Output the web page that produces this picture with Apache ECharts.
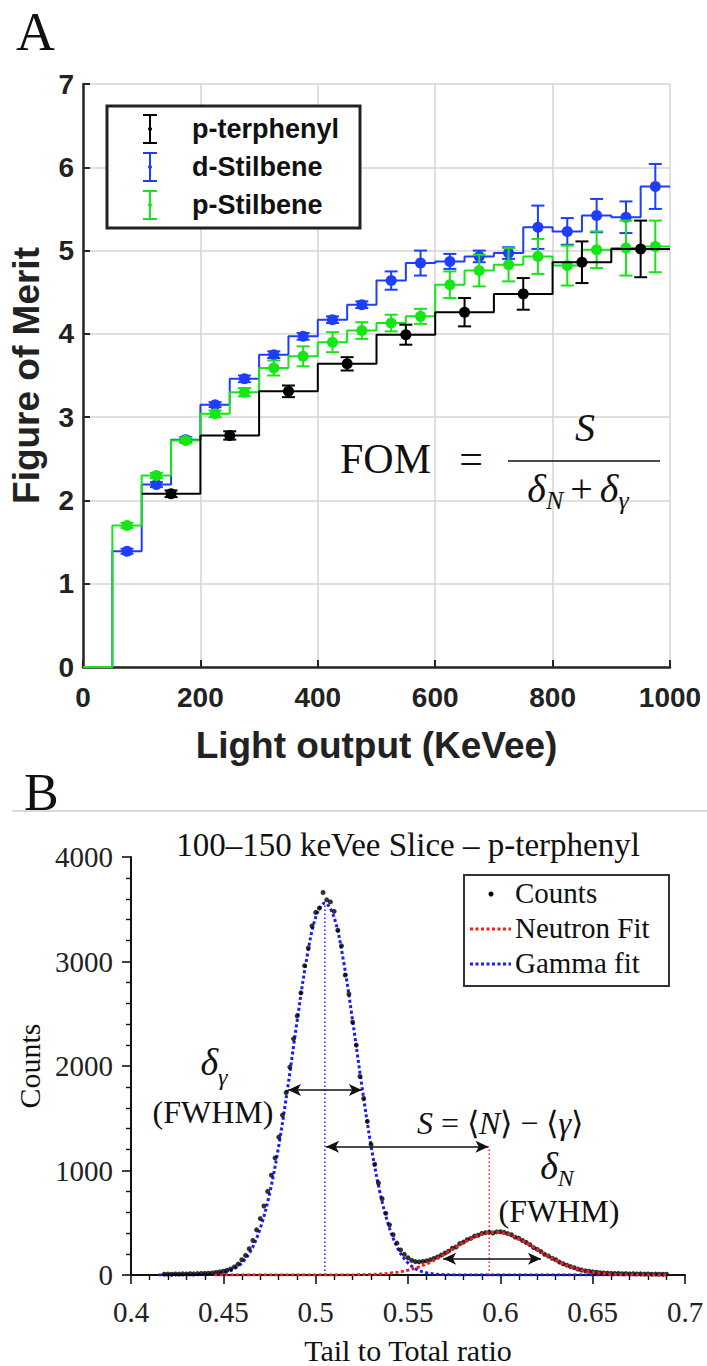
<!DOCTYPE html>
<html><head><meta charset="utf-8">
<script src="https://cdn.jsdelivr.net/npm/echarts@6/dist/echarts.min.js"></script>
<style>html,body{margin:0;padding:0;background:#fff}#c{width:707px;height:1366px}</style>
</head><body><div id="c"></div>
<script>
// ---------- Panel A: Figure of Merit ----------
const stilbeneLo = [50,100,150,200,250,300,350,400,450,500,550,600,650,700,750,800,850,900,950];
const stilbeneHi = [100,150,200,250,300,350,400,450,500,550,600,650,700,750,800,850,900,950,1000];
const stilbeneCenters = [75,125,175,225,275,325,375,425,475,525,575,625,675,725,775,825,875,925,975];
const dStilbene    = [1.39,2.19,2.73,3.15,3.46,3.75,3.97,4.17,4.35,4.64,4.85,4.87,4.93,4.97,5.28,5.23,5.42,5.40,5.77];
const dStilbeneErr = [0.03,0.03,0.03,0.03,0.04,0.04,0.04,0.04,0.04,0.11,0.15,0.09,0.07,0.07,0.26,0.16,0.20,0.19,0.27];
const pStilbene    = [1.70,2.30,2.72,3.04,3.30,3.59,3.73,3.90,4.04,4.13,4.21,4.59,4.76,4.83,4.93,4.82,5.01,5.03,5.05];
const pStilbeneErr = [0.03,0.03,0.03,0.04,0.05,0.09,0.12,0.12,0.10,0.10,0.09,0.16,0.19,0.20,0.21,0.24,0.22,0.33,0.31];
const terphenylLo = [100,200,300,400,500,600,700,800,900];
const terphenylHi = [200,300,400,500,600,700,800,900,1000];
const terphenylCenters = [150,250,350,450,550,650,750,850,950];
const pTerphenyl    = [2.08,2.78,3.31,3.64,3.99,4.26,4.48,4.86,5.02];
const pTerphenylErr = [0.04,0.05,0.07,0.08,0.12,0.17,0.19,0.25,0.34];

// ---------- Panel B: 100-150 keVee slice ----------
const countsX = [0.418,0.42,0.422,0.424,0.426,0.428,0.43,0.432,0.434,0.436,0.438,
 0.44,0.442,0.444,0.446,0.448,0.45,0.452,0.454,0.456,0.458,
 0.46,0.462,0.464,0.466,0.468,0.47,0.472,0.474,0.476,0.478,
 0.48,0.482,0.484,0.486,0.488,0.49,0.492,0.494,0.496,0.498,
 0.5,0.502,0.504,0.506,0.508,0.51,0.512,0.514,0.516,0.518,
 0.52,0.522,0.524,0.526,0.528,0.53,0.532,0.534,0.536,0.538,
 0.54,0.542,0.544,0.546,0.548,0.55,0.552,0.554,0.556,0.558,
 0.56,0.562,0.564,0.566,0.568,0.57,0.572,0.574,0.576,0.578,
 0.58,0.582,0.584,0.586,0.588,0.59,0.592,0.594,0.596,0.598,
 0.6,0.602,0.604,0.606,0.608,0.61,0.612,0.614,0.616,0.618,
 0.62,0.622,0.624,0.626,0.628,0.63,0.632,0.634,0.636,0.638,
 0.64,0.642,0.644,0.646,0.648,0.65,0.652,0.654,0.656,0.658,
 0.66,0.662,0.664,0.666,0.668,0.67,0.672,0.674,0.676,0.678,
 0.68,0.682,0.684,0.686,0.688,0.69];
const counts = [8,9,7,10,9,11,10,12,11,13,14,
 16,17,20,24,30,36,46,58,78,104,
 146,188,252,330,432,540,660,800,955,1120,
 1320,1530,1745,1990,2260,2480,2700,2960,3130,3340,
 3470,3510,3660,3590,3570,3480,3300,3150,2870,2690,
 2420,2200,1900,1690,1470,1250,1060,880,730,590,
 480,385,305,240,198,165,140,128,126,130,
 135,145,158,172,190,210,228,256,268,300,
 315,338,350,372,380,398,405,410,402,412,
 414,408,396,385,362,352,330,312,290,262,
 246,224,198,182,160,146,124,108,94,80,
 70,56,48,40,36,30,26,22,20,18,
 16,14,15,12,13,11,12,10,11,9,
 10,8,9,8,7,8];
const gammaFitX = [0.415,0.42,0.425,0.43,0.435,0.44,0.445,0.45,0.455,0.46,0.465,0.47,0.475,0.48,0.485,0.49,0.495,0.5,0.505,0.51,0.515,0.52,0.525,0.53,0.535,0.54,0.545,0.55,0.555,0.56,0.565,0.57,0.575,0.58,0.585,0.59,0.595,0.6,0.605,0.61,0.615,0.62,0.625,0.63,0.635,0.64,0.645,0.65,0.655,0.66,0.665,0.67,0.675,0.68,0.685,0.69];
const gammaFit = [0,0,0,0,1,3,8,21,51,115,236,446,775,1235,1810,2436,3013,3422,3560,3422,3013,2436,1810,1235,775,446,236,115,51,21,8,3,1,0,0,0,0,0,0,0,0,0,0,0,0,0,0,0,0,0,0,0,0,0,0,0];
const neutronFitX = [0.445,0.45,0.455,0.46,0.465,0.47,0.475,0.48,0.485,0.49,0.495,0.5,0.505,0.51,0.515,0.52,0.525,0.53,0.535,0.54,0.545,0.55,0.555,0.56,0.565,0.57,0.575,0.58,0.585,0.59,0.595,0.6,0.605,0.61,0.615,0.62,0.625,0.63,0.635,0.64,0.645,0.65,0.655,0.66,0.665,0.67,0.675,0.68,0.685,0.69];
const neutronFit = [0,0,0,0,0,0,0,0,0,0,0,0,0,0,1,1,3,5,9,17,28,46,72,106,149,200,254,308,356,391,408,406,385,347,298,243,189,140,98,66,42,26,15,8,4,2,1,0,0,0];
const gammaMean = 0.505, gammaPeak = 3560;
const neutronMean = 0.594;
const gammaFwhm = [0.485, 0.525, 1770];   // left, right, height
const sArrow = [0.5056, 0.5936, 1228];
const neutronFwhm = [0.569, 0.622, 155];
const ratioTicks = ['0.4','0.45','0.5','0.55','0.6','0.65','0.7'];

// ---------- helpers ----------
const SANS = 'Liberation Sans, Arial, sans-serif';
const SERIF = 'Liberation Serif, Times New Roman, serif';
const BLUE = '#1f3dff', GREEN = '#16e616', BLACK = '#000000';
const ZG = 100;

function steps(lo, hi, vals, leadZero) {
  const pts = leadZero ? [[0,0],[lo[0],0]] : [];
  vals.forEach((v,i) => { pts.push([lo[i], v], [hi[i], v]); });
  return pts;
}
function errRender(color) {
  return function(params, api) {
    const x = api.value(0), y = api.value(1), e = api.value(2);
    const p = api.coord([x, y]), pt = api.coord([x, y + e]), pb = api.coord([x, y - e]);
    const w = 6.5, st = {stroke: color, lineWidth: 2};
    return {type:'group', children:[
      {type:'line', shape:{x1:p[0], y1:pt[1], x2:p[0], y2:pb[1]}, style:st},
      {type:'line', shape:{x1:p[0]-w, y1:pt[1], x2:p[0]+w, y2:pt[1]}, style:st},
      {type:'line', shape:{x1:p[0]-w, y1:pb[1], x2:p[0]+w, y2:pb[1]}, style:st},
      {type:'circle', shape:{cx:p[0], cy:p[1], r:5.5}, style:{fill: color}}
    ]};
  };
}
function stepSeries(name, data, color, z) {
  return {name, type:'line', xAxisIndex:0, yAxisIndex:0, data, showSymbol:false, symbol:'none',
    lineStyle:{color, width:2}, itemStyle:{color}, z, silent:true, animation:false};
}
function errSeries(name, centers, vals, errs, color, z) {
  return {name, type:'custom', xAxisIndex:0, yAxisIndex:0, renderItem: errRender(color),
    data: centers.map((c,i) => [c, vals[i], errs[i]]), encode:{x:0, y:1}, z, silent:true, animation:false, clip:false};
}
function legendEntry(y, color, label) {
  const x = 150, st = {stroke: color, lineWidth: 2};
  return [
    {type:'line', z:ZG+1, shape:{x1:x, y1:y-14, x2:x, y2:y+14}, style:st},
    {type:'line', z:ZG+1, shape:{x1:x-7, y1:y-14, x2:x+7, y2:y-14}, style:st},
    {type:'line', z:ZG+1, shape:{x1:x-7, y1:y+14, x2:x+7, y2:y+14}, style:st},
    {type:'circle', z:ZG+1, shape:{cx:x, cy:y, r:2}, style:{fill: color}},
    {type:'text', z:ZG+1, x:192, y:y, style:{text:label, font:'bold 27px ' + SANS, fill:'#111', textVerticalAlign:'middle'}}
  ];
}
function t(x, y, text, size, opts) {
  opts = opts || {};
  const st = {text, fill:'#111', textAlign: opts.align || 'center', textVerticalAlign:'middle',
    font: (opts.italic ? 'italic ' : '') + size + 'px ' + SERIF};
  if (opts.lh) st.lineHeight = opts.lh;
  return {type:'text', z:ZG+1, x, y, style:st};
}
// math text with subscripts via rich text; (x, cy) = centre of the main glyph, D = subscript drop
function mathT(x, cy, text, big, small, D) {
  const diff = 0.8 * big - 0.75 * small;
  const pt = (2 * D + diff) / 2, pb = (2 * D - diff) / 2;
  const base = {fontFamily:SERIF, fontStyle:'italic', fontSize:big, lineHeight:0.8 * big, fill:'#111', padding:[0,0,pb,0]};
  return {type:'text', z:ZG+1, x, y: cy + pb / 2, style:{text, textAlign:'center', textVerticalAlign:'middle',
    fontFamily:SERIF, fontSize:big, fill:'#111',
    rich:{
      d: base,
      p: Object.assign({}, base, {fontStyle:'normal', padding:[0,7,pb,7]}),
      s: {fontFamily:SERIF, fontStyle:'italic', fontSize:small, lineHeight:0.75 * small, fill:'#111', padding:[pt,0,0,0]}
    }}};
}

const axisA = {
  axisLine:{show:true, lineStyle:{color:'#262626', width:2.5}},
  axisTick:{show:true, inside:true, length:7, lineStyle:{color:'#262626', width:2}},
  splitLine:{show:true, lineStyle:{color:'#d5d5d5', width:1.5}},
  axisLabel:{fontFamily:SANS, fontWeight:'bold', fontSize:28, color:'#222', formatter:(v)=>String(v)},
  nameTextStyle:{fontFamily:SANS, fontWeight:'bold', fontSize:37, color:'#222'}
};
const axisB = {
  axisLine:{show:true, lineStyle:{color:'#111', width:2}},
  axisTick:{show:true, inside:false, length:9, lineStyle:{color:'#111', width:1.6}},
  minorTick:{show:true, splitNumber:5, length:5, lineStyle:{color:'#111', width:1.4}},
  splitLine:{show:false},
  axisLabel:{fontFamily:SERIF, fontSize:29, color:'#222'},
  nameTextStyle:{fontFamily:SERIF, fontSize:30, color:'#111'}
};

const option = {
  backgroundColor:'#fff',
  animation:false,
  grid:[
    {left:82, top:84, width:588, height:583},
    {left:131, top:857, width:554, height:418}
  ],
  xAxis:[
    Object.assign({type:'value', gridIndex:0, min:0, max:1000, interval:200,
      name:'Light output (KeVee)', nameLocation:'middle', nameGap:60}, axisA,
      {axisLabel:Object.assign({}, axisA.axisLabel, {margin:16})}),
    Object.assign({type:'value', gridIndex:1, min:0.4, max:0.7, interval:0.05,
      name:'Tail to Total ratio', nameLocation:'middle', nameGap:60}, axisB,
      {axisLabel:Object.assign({}, axisB.axisLabel, {margin:22, formatter:(v)=>ratioTicks[Math.round((v-0.4)/0.05)]})})
  ],
  yAxis:[
    Object.assign({type:'value', gridIndex:0, min:0, max:7, interval:1,
      name:'Figure of Merit', nameLocation:'middle', nameGap:38}, axisA,
      {axisLabel:Object.assign({}, axisA.axisLabel, {margin:9})}),
    Object.assign({type:'value', gridIndex:1, min:0, max:4000, interval:1000,
      name:'Counts', nameLocation:'middle', nameGap:86}, axisB,
      {axisLabel:Object.assign({}, axisB.axisLabel, {margin:18, formatter:(v)=>String(v)})})
  ],
  series:[
    stepSeries('d-Stilbene', steps(stilbeneLo, stilbeneHi, dStilbene, true), BLUE, 2),
    errSeries('d-Stilbene', stilbeneCenters, dStilbene, dStilbeneErr, BLUE, 3),
    stepSeries('p-Stilbene', steps(stilbeneLo, stilbeneHi, pStilbene, true), GREEN, 4),
    errSeries('p-Stilbene', stilbeneCenters, pStilbene, pStilbeneErr, GREEN, 5),
    stepSeries('p-terphenyl', steps(terphenylLo, terphenylHi, pTerphenyl, false), BLACK, 6),
    errSeries('p-terphenyl', terphenylCenters, pTerphenyl, pTerphenylErr, BLACK, 7),

    {name:'Gamma fit', type:'line', xAxisIndex:1, yAxisIndex:1, data: gammaFitX.map((x,i)=>[x, gammaFit[i]]),
      showSymbol:false, symbol:'none', smooth:0.35, lineStyle:{color:'#1a1aff', width:3, type:[3,2.5]}, z:2, silent:true},
    {name:'Counts', type:'scatter', xAxisIndex:1, yAxisIndex:1, data: countsX.map((x,i)=>[x, counts[i]]),
      symbol:'circle', symbolSize:5, itemStyle:{color:'#000'}, z:3, silent:true,
      markLine:{silent:true, symbol:['arrow','arrow'], symbolSize:[9,13], animation:false,
        lineStyle:{color:'#111', width:1.5, type:'solid'}, label:{show:false},
        data:[
          [{coord:[gammaFwhm[0], gammaFwhm[2]]},{coord:[gammaFwhm[1], gammaFwhm[2]]}],
          [{coord:[sArrow[0], sArrow[2]]},{coord:[sArrow[1], sArrow[2]]}],
          [{coord:[neutronFwhm[0], neutronFwhm[2]]},{coord:[neutronFwhm[1], neutronFwhm[2]]}]
        ]}},
    {name:'Neutron Fit', type:'line', xAxisIndex:1, yAxisIndex:1, data: neutronFitX.map((x,i)=>[x, neutronFit[i]]),
      showSymbol:false, symbol:'none', smooth:0.35, lineStyle:{color:'#ff1a1a', width:3, type:[3,2.5]}, z:4, silent:true},
    {name:'gamma mean', type:'line', xAxisIndex:1, yAxisIndex:1, data:[[gammaMean,0],[gammaMean,gammaPeak]],
      showSymbol:false, symbol:'none', lineStyle:{color:'#2a2aff', width:1.6, type:[1.6,2.4]}, z:1, silent:true},
    {name:'neutron mean', type:'line', xAxisIndex:1, yAxisIndex:1, data:[[neutronMean,0],[neutronMean,sArrow[2]]],
      showSymbol:false, symbol:'none', lineStyle:{color:'#ff2a2a', width:1.6, type:[1.6,2.4]}, z:1, silent:true}
  ],
  graphic:[].concat(
    [
      // panel labels and separator
      {type:'text', z:ZG, x:16, y:32, style:{text:'A', font:'54px ' + SERIF, fill:'#111', textVerticalAlign:'middle'}},
      {type:'text', z:ZG, x:24, y:792, style:{text:'B', font:'52px ' + SERIF, fill:'#111', textVerticalAlign:'middle'}},
      {type:'line', z:ZG, shape:{x1:12, y1:811, x2:707, y2:811}, style:{stroke:'#b4b4b4', lineWidth:1}},
      // legend A frame
      {type:'rect', z:ZG, shape:{x:107, y:106, width:253, height:122}, style:{fill:'#fff', stroke:'#222', lineWidth:3}}
    ],
    legendEntry(129, BLACK, 'p-terphenyl'),
    legendEntry(167, BLUE, 'd-Stilbene'),
    legendEntry(205, GREEN, 'p-Stilbene'),
    [
      // FOM formula
      t(340, 459, 'FOM', 42, {align:'left'}),
      t(471, 459, '=', 42),
      {type:'line', z:ZG+1, shape:{x1:508, y1:461, x2:660, y2:461}, style:{stroke:'#111', lineWidth:1.6}},
      t(585, 427, 'S', 40, {italic:true}),
      mathT(578, 488, '{d|δ}{s|N}{p|+}{d|δ}{s|γ}', 40, 26, 12),
      // panel B title
      t(408, 845, '100–150 keVee Slice – p-terphenyl', 33),
      // annotations
      mathT(214, 1062, '{d|δ}{s|γ}', 38, 24, 15),
      t(213, 1112, '(FWHM)', 32, {lh:28}),
      {type:'text', z:ZG+1, x:500, y:1123, style:{text:'{i|S} = ⟨{i|N}⟩ − ⟨{i|γ}⟩', textAlign:'center', textVerticalAlign:'middle',
        font:'32px ' + SERIF, fill:'#111', rich:{i:{fontStyle:'italic', fontSize:32, fontFamily:SERIF, fill:'#111'}}}},
      mathT(557, 1166, '{d|δ}{s|N}', 38, 24, 12),
      t(559, 1211, '(FWHM)', 32, {lh:26}),
      // legend B
      {type:'rect', z:ZG, shape:{x:464, y:875, width:205, height:111}, style:{fill:'#fff', stroke:'#333', lineWidth:2}},
      {type:'circle', z:ZG+1, shape:{cx:491, cy:894, r:2.5}, style:{fill:'#000'}},
      {type:'line', z:ZG+1, shape:{x1:470, y1:929, x2:511, y2:929}, style:{stroke:'#ff1a1a', lineWidth:3, lineDash:[3,2.5]}},
      {type:'line', z:ZG+1, shape:{x1:470, y1:964, x2:511, y2:964}, style:{stroke:'#1a1aff', lineWidth:3, lineDash:[3,2.5]}},
      t(515, 893, 'Counts', 29, {align:'left'}),
      t(515, 928, 'Neutron Fit', 29, {align:'left'}),
      t(515, 963, 'Gamma fit', 29, {align:'left'})
    ]
  )
};
const chart = echarts.init(document.getElementById('c'), null, {renderer:'svg', width:707, height:1366});
chart.setOption(option);
</script>
</body></html>
